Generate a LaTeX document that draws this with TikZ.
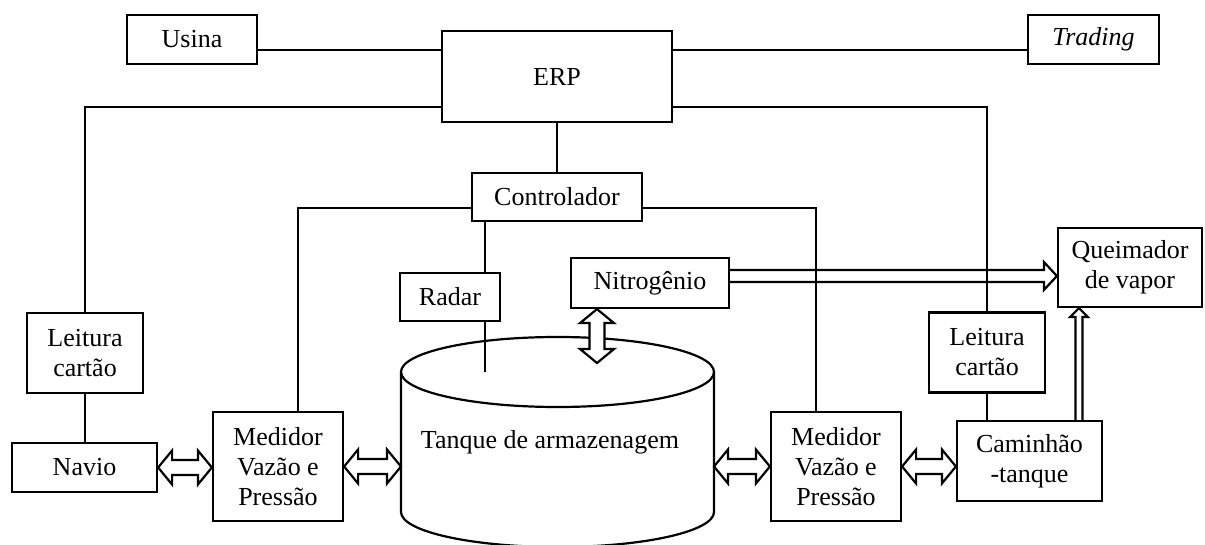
\documentclass[tikz,border=0pt]{standalone}
\usepackage{fontspec}
\setmainfont{Liberation Serif}
\usetikzlibrary{calc}
\tikzset{
  box/.style={draw, line width=1.1pt, fill=white, align=center, inner sep=0pt, font=\fontsize{13}{15}\selectfont},
  wire/.style={draw, line width=1.1pt},
  flow/.style={draw, line width=1.1pt, line join=miter},
  lab/.style={font=\fontsize{13}{15}\selectfont},
}
% hollow double arrow between two points
\newcommand{\dblarrow}[2]{%
  \coordinate (s) at (#1); \coordinate (t) at (#2);
  \coordinate (s1) at ($(s)!7pt!(t)$);
  \coordinate (t1) at ($(t)!7pt!(s)$);
  \draw[flow, fill=white] (s) -- ($(s1)!8.5pt!90:(t)$) -- ($(s1)!3.75pt!90:(t)$)
    -- ($(t1)!3.75pt!-90:(s)$) -- ($(t1)!8.5pt!-90:(s)$) -- (t)
    -- ($(t1)!8.5pt!90:(s)$) -- ($(t1)!3.75pt!90:(s)$)
    -- ($(s1)!3.75pt!-90:(t)$) -- ($(s1)!8.5pt!-90:(t)$) -- cycle;}
% hollow single arrow: from, to, head length, head half width, shaft half width
\newcommand{\onearrow}[5]{%
  \coordinate (s) at (#1); \coordinate (t) at (#2);
  \coordinate (t1) at ($(t)!#3!(s)$);
  \draw[flow] ($(s)!#5!90:(t)$) -- ($(t1)!#5!-90:(s)$) -- ($(t1)!#4!-90:(s)$) -- (t)
    -- ($(t1)!#4!90:(s)$) -- ($(t1)!#5!90:(s)$) -- ($(s)!#5!-90:(t)$);}

\begin{document}
\begin{tikzpicture}[x=0.5pt, y=-0.5pt]
  \useasboundingbox (0,0) rectangle (1205,545);

  % tank
  \draw[flow, fill=white] (401,372) -- (401,512)
    arc[start angle=180, end angle=360, x radius=78.25pt, y radius=17.5pt] -- (714,372);
  \draw[flow] (557.5,372) ellipse [x radius=78.25pt, y radius=17.5pt];
  \node[lab] (tank) at (550,442) {Tanque de armazenagem};
  \coordinate (tkL) at (401,466.5);
  \coordinate (tkR) at (714,466.5);
  \coordinate (tkT) at (597,363);
  \coordinate (rd) at (485,372);

  % boxes
  \node[box, minimum width=65pt, minimum height=24.5pt] (usina) at (192,39.5) {Usina};
  \node[box, minimum width=115pt, minimum height=45.5pt] (erp) at (557,76.5) {ERP};
  \node[box, minimum width=65.5pt, minimum height=24.5pt] (trading) at (1093.5,39.5) {\textit{Trading}};
  \node[box, minimum width=85pt, minimum height=24pt] (ctrl) at (557,197) {Controlador};
  \node[box, minimum width=50pt, minimum height=24pt] (radar) at (450,297) {Radar};
  \node[box, minimum width=79pt, minimum height=25pt] (nitro) at (650,283) {Nitrogênio};
  \node[box, minimum width=72pt, minimum height=39.5pt] (queim) at (1130,267.5) {Queimador\\de vapor};
  \node[box, minimum width=58pt, minimum height=40pt] (leitL) at (85,353) {Leitura\\cartão};
  \node[box, minimum width=58pt, minimum height=40pt] (leitR) at (987,352.5) {Leitura\\cartão};
  \node[box, minimum width=72.5pt, minimum height=24.5pt] (navio) at (84.5,467.5) {Navio};
  \node[box, minimum width=65pt, minimum height=54.5pt] (medL) at (278,466.5) {Medidor\\Vazão e\\Pressão};
  \node[box, minimum width=65pt, minimum height=54.5pt] (medR) at (836,466.5) {Medidor\\Vazão e\\Pressão};
  \node[box, minimum width=72.5pt, minimum height=40pt] (truck) at (1029.5,461) {Caminhão\\-tanque};

  % information lines
  \draw[wire] ([yshift=-5.25pt]usina.east) -- ([yshift=-5.25pt]usina.east -| erp.west);
  \draw[wire] ([yshift=-5.25pt]trading.west) -- ([yshift=-5.25pt]trading.west -| erp.east);
  \draw[wire] ([yshift=-15.25pt]erp.west) -| (leitL.north);
  \draw[wire] ([yshift=-15.25pt]erp.east) -| (leitR.north);
  \draw[wire] (erp.south) -- (ctrl.north);
  \draw[wire] ([yshift=-5.5pt]ctrl.west) -| ([xshift=10pt]medL.north);
  \draw[wire] ([yshift=-5.5pt]ctrl.east) -| ([xshift=-10pt]medR.north);
  \draw[wire] (rd |- ctrl.south) -- (rd |- radar.north);
  \draw[wire] (rd |- radar.south) -- (rd);
  \draw[wire] (leitL.south) -- (leitL.south |- navio.north);
  \draw[wire] (leitR.south) -- (leitR.south |- truck.north);

  % product flows
  \dblarrow{navio.east}{navio.east -| medL.west}
  \dblarrow{medL.east}{tkL}
  \dblarrow{tkR}{medR.west}
  \dblarrow{medR.east}{medR.east -| truck.west}
  \dblarrow{tkT |- nitro.south}{tkT}
  \onearrow{[yshift=3.5pt]nitro.east}{[yshift=3.5pt]nitro.east -| queim.west}{6.5pt}{7pt}{3pt}
  \onearrow{[xshift=24.75pt]truck.north}{[xshift=24.75pt]truck.north |- queim.south}{4.5pt}{4.5pt}{1.75pt}
\end{tikzpicture}
\end{document}
